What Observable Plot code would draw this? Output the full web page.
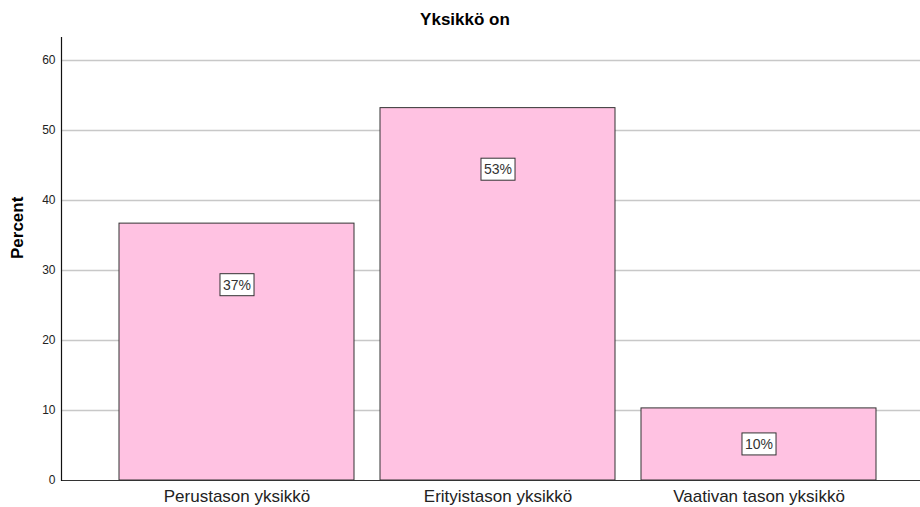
<!DOCTYPE html>
<html>
<head>
<meta charset="utf-8">
<script src="https://cdn.jsdelivr.net/npm/d3@7"></script>
<script src="https://cdn.jsdelivr.net/npm/@observablehq/plot@0.6"></script>
<style>
  body { margin: 0; background: #fff; }
  #title { width: 920px; height: 30px; box-sizing: border-box; padding-top: 12px; padding-left: 10px; text-align: center;
           font: bold 17px "Liberation Sans", Arial, sans-serif; line-height: 16px; color: #000; }
</style>
</head>
<body>
<div id="title">Yksikkö on</div>
<div id="chart"></div>
<script>
const categories = ["Perustason yksikkö", "Erityistason yksikkö", "Vaativan tason yksikkö"];
const percents = [36.7, 53.2, 10.3];
const labels = ["37%", "53%", "10%"];
const yTicks = [0, 10, 20, 30, 40, 50, 60];

const data = categories.map((c, i) => ({cat: c, pct: percents[i], label: labels[i]}));
const labelOffset = 8.8;
const labelY = d => d.pct >= 2 * labelOffset ? d.pct - labelOffset : d.pct / 2;

const chart = Plot.plot({
  width: 920,
  height: 477,
  marginTop: 7,
  marginBottom: 27,
  marginLeft: 61,
  marginRight: 0,
  style: {fontFamily: "'Liberation Sans', Arial, sans-serif", background: "#fff", color: "#222"},
  x: {domain: categories, range: [105.4, 889.2], paddingInner: 0.1, paddingOuter: 0.05, label: null},
  y: {domain: [0, 63.29], label: null},
  marks: [
    Plot.ruleY(yTicks.filter(d => d > 0), {stroke: "#c8c8c8", strokeWidth: 1.5}),
    Plot.barY(data, {x: "cat", y: "pct", fill: "#ffc2e2", stroke: "#333", strokeWidth: 1}),
    Plot.ruleY([0], {stroke: "#333", strokeWidth: 1.2}),
    Plot.frame({anchor: "left", stroke: "#111", strokeWidth: 1.2}),
    Plot.axisY(yTicks, {tickSize: 0, tickPadding: 6, fontSize: 12, label: null, fill: "#222"}),
    Plot.axisX({tickSize: 0, tickPadding: 9, fontSize: 17, label: null, fill: "#222"}),
    Plot.text(["Percent"], {frameAnchor: "left", rotate: -90, dx: -44, fontSize: 17, fontWeight: "bold", fill: "#000"}),
    Plot.text(data, {x: "cat", y: labelY, text: "label", fontSize: 14, fill: "#333", className: "vlbl"})
  ]
});
document.getElementById("chart").appendChild(chart);

// draw a white box with a thin border behind each value label
chart.querySelectorAll("g.vlbl text").forEach(t => {
  const b = t.getBBox();
  const r = document.createElementNS("http://www.w3.org/2000/svg", "rect");
  r.setAttribute("x", b.x - 3);
  r.setAttribute("y", b.y - 3);
  r.setAttribute("width", b.width + 6);
  r.setAttribute("height", b.height + 6);
  r.setAttribute("fill", "#fff");
  r.setAttribute("stroke", "#333");
  r.setAttribute("stroke-width", 1);
  const tr = t.getAttribute("transform");
  if (tr) r.setAttribute("transform", tr);
  t.parentNode.insertBefore(r, t);
});
</script>
</body>
</html>
